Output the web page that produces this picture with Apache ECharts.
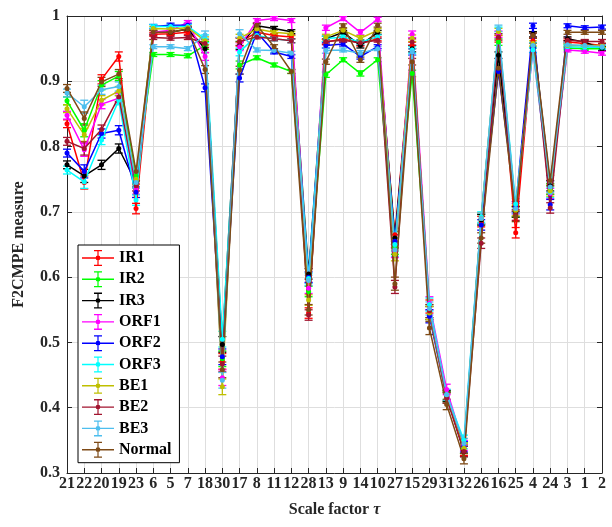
<!DOCTYPE html>
<html><head><meta charset="utf-8">
<script src="https://cdn.jsdelivr.net/npm/echarts@6/dist/echarts.min.js"></script>
<style>html,body{margin:0;padding:0;background:#fff}#c{width:612px;height:527px}</style>
</head><body><div id="c"></div>
<script>
const scaleFactors = ['21','22','20','19','23','6','5','7','18','30','17','8','11','12','28','13','9','14','10','27','15','29','31','32','26','16','25','4','24','3','1','2'];
const yTicks = [0.3,0.4,0.5,0.6,0.7,0.8,0.9,1];
const seriesNames = ['IR1','IR2','IR3','ORF1','ORF2','ORF3','BE1','BE2','BE3','Normal'];
const IR1 = [0.835,0.745,0.903,0.938,0.705,0.972,0.973,0.975,0.955,0.471,0.960,0.975,0.970,0.968,0.545,0.960,0.965,0.958,0.965,0.665,0.955,0.555,0.418,0.335,0.685,0.965,0.668,0.962,0.735,0.960,0.958,0.955];
const IR2 = [0.870,0.825,0.894,0.908,0.755,0.941,0.941,0.939,0.955,0.475,0.925,0.936,0.925,0.915,0.578,0.910,0.933,0.912,0.933,0.645,0.912,0.548,0.417,0.338,0.688,0.960,0.700,0.955,0.735,0.951,0.950,0.950];
const IR3 = [0.772,0.755,0.772,0.797,0.745,0.975,0.975,0.980,0.950,0.497,0.955,0.985,0.981,0.976,0.605,0.965,0.975,0.955,0.975,0.660,0.950,0.545,0.418,0.333,0.688,0.940,0.700,0.972,0.740,0.965,0.960,0.950];
const ORF1 = [0.848,0.795,0.865,0.874,0.735,0.975,0.978,0.990,0.938,0.446,0.953,0.993,0.996,0.993,0.583,0.982,0.996,0.975,0.995,0.640,0.972,0.560,0.428,0.342,0.690,0.972,0.705,0.948,0.728,0.948,0.946,0.943];
const ORF2 = [0.790,0.762,0.820,0.825,0.730,0.984,0.986,0.986,0.890,0.478,0.905,0.975,0.945,0.938,0.600,0.955,0.957,0.938,0.953,0.655,0.945,0.540,0.415,0.340,0.680,0.915,0.708,0.985,0.711,0.985,0.982,0.983];
const ORF3 = [0.764,0.746,0.810,0.871,0.718,0.984,0.984,0.984,0.965,0.505,0.945,0.970,0.965,0.962,0.598,0.965,0.968,0.960,0.968,0.650,0.948,0.558,0.420,0.350,0.692,0.978,0.712,0.948,0.730,0.953,0.952,0.952];
const BE1 = [0.858,0.818,0.871,0.885,0.750,0.981,0.980,0.982,0.962,0.432,0.966,0.980,0.975,0.973,0.565,0.968,0.978,0.966,0.978,0.635,0.966,0.545,0.415,0.338,0.690,0.976,0.702,0.958,0.732,0.955,0.955,0.955];
const BE2 = [0.808,0.797,0.826,0.876,0.740,0.967,0.966,0.967,0.958,0.467,0.961,0.968,0.965,0.962,0.542,0.961,0.963,0.959,0.963,0.585,0.960,0.548,0.415,0.333,0.652,0.968,0.695,0.970,0.706,0.963,0.961,0.961];
const BE3 = [0.882,0.861,0.887,0.892,0.745,0.953,0.953,0.950,0.971,0.442,0.973,0.948,0.947,0.943,0.595,0.947,0.948,0.943,0.950,0.642,0.945,0.552,0.420,0.345,0.690,0.981,0.705,0.955,0.738,0.956,0.955,0.953];
const Normal = [0.889,0.843,0.899,0.911,0.762,0.975,0.975,0.980,0.918,0.458,0.917,0.986,0.953,0.915,0.550,0.930,0.985,0.933,0.986,0.590,0.930,0.522,0.405,0.322,0.660,0.920,0.693,0.970,0.748,0.975,0.975,0.975];
const errorByScale = [0.006,0.010,0.007,0.007,0.008,0.003,0.003,0.003,0.006,0.012,0.006,0.003,0.003,0.003,0.008,0.004,0.003,0.004,0.003,0.010,0.005,0.010,0.008,0.008,0.008,0.005,0.008,0.004,0.008,0.003,0.003,0.003];

const seriesValues = [IR1,IR2,IR3,ORF1,ORF2,ORF3,BE1,BE2,BE3,Normal];
const colors = ['#ff0000','#00ff00','#000000','#ff00ff','#0000ff','#00ffff','#bfbf00','#a2142f','#4dbeee','#7e4a16'];
const FONT = '"Liberation Serif","DejaVu Serif",serif';
const ICON = 'path://M0,7.3L32,7.3L32,8.7L0,8.7Z M15.4,0.6L16.6,0.6L16.6,15.4L15.4,15.4Z M12,0L20,0L20,1.3L12,1.3Z M12,14.7L20,14.7L20,16L12,16Z M13.6,8A2.4,2.4,0,1,1,18.4,8A2.4,2.4,0,1,1,13.6,8Z';

const series = [];
seriesNames.forEach((name, i) => {
  const col = colors[i];
  series.push({
    name: name, type: 'line', data: seriesValues[i],
    symbol: 'circle', symbolSize: 5, showSymbol: true,
    itemStyle: {color: col}, lineStyle: {color: col, width: 1.5},
    emphasis: {disabled: true}, animation: false, z: 3
  });
  series.push({
    name: name + ' err', type: 'custom',
    data: seriesValues[i].map((v, k) => [k, v, errorByScale[k]]),
    encode: {x: 0, y: 1},
    renderItem: function (params, api) {
      const x = api.value(0), v = api.value(1), e = api.value(2);
      const t = api.coord([x, v + e]);
      const b = api.coord([x, v - e]);
      const hw = 4;
      const st = {stroke: col, lineWidth: 1.3};
      return {type: 'group', children: [
        {type: 'line', shape: {x1: t[0], y1: t[1], x2: b[0], y2: b[1]}, style: st},
        {type: 'line', shape: {x1: t[0]-hw, y1: t[1], x2: t[0]+hw, y2: t[1]}, style: st},
        {type: 'line', shape: {x1: b[0]-hw, y1: b[1], x2: b[0]+hw, y2: b[1]}, style: st}
      ]};
    },
    silent: true, animation: false, z: 3
  });
});

const chart = echarts.init(document.getElementById('c'));
chart.setOption({
  backgroundColor: '#fff',
  animation: false,
  grid: {left: 67, right: 10, top: 16, bottom: 54},
  legend: {
    data: seriesNames.map(n => ({name: n, icon: ICON})),
    orient: 'vertical', left: 78, top: 245,
    itemWidth: 32, itemHeight: 16, itemGap: 5.3,
    padding: [5, 8, 5, 4],
    borderColor: '#000', borderWidth: 1, backgroundColor: '#fff',
    textStyle: {fontFamily: FONT, fontWeight: 'bold', fontSize: 16, color: '#000'},
    selectedMode: false
  },
  xAxis: [{
    type: 'category', data: scaleFactors, boundaryGap: false,
    name: 'Scale factor {t|τ}', nameLocation: 'middle', nameGap: 29,
    nameTextStyle: {fontFamily: FONT, fontWeight: 'bold', fontSize: 16, color: '#262626',
      rich: {t: {fontFamily: FONT, fontWeight: 'bold', fontStyle: 'italic', fontSize: 16, color: '#262626'}}},
    axisLine: {lineStyle: {color: '#262626', width: 1}},
    axisTick: {inside: true, length: 5, alignWithLabel: true, lineStyle: {color: '#262626'}},
    axisLabel: {interval: 0, margin: 3, fontFamily: FONT, fontWeight: 'bold', fontSize: 16, color: '#262626', hideOverlap: false},
    splitLine: {show: true, lineStyle: {color: '#dedede', width: 1}}
  }, {
    type: 'category', data: scaleFactors, boundaryGap: false, position: 'top',
    axisLine: {lineStyle: {color: '#262626', width: 1}},
    axisTick: {inside: true, length: 5, lineStyle: {color: '#262626'}},
    axisLabel: {show: false}, splitLine: {show: false}
  }],
  yAxis: [{
    type: 'value', min: yTicks[0], max: yTicks[yTicks.length-1], interval: 0.1,
    name: 'F2CMPE measure', nameLocation: 'middle', nameGap: 40,
    nameTextStyle: {fontFamily: FONT, fontWeight: 'bold', fontSize: 16, color: '#262626'},
    axisLine: {show: true, lineStyle: {color: '#262626', width: 1}},
    axisTick: {show: true, inside: true, length: 5, lineStyle: {color: '#262626'}},
    axisLabel: {margin: 7, fontFamily: FONT, fontWeight: 'bold', fontSize: 16, color: '#262626',
      formatter: v => (Math.abs(v-1) < 1e-9 ? '1' : v.toFixed(1))},
    splitLine: {show: true, lineStyle: {color: '#dedede', width: 1}}
  }, {
    type: 'value', min: yTicks[0], max: yTicks[yTicks.length-1], interval: 0.1, position: 'right',
    axisLine: {show: true, lineStyle: {color: '#262626', width: 1}},
    axisTick: {show: true, inside: true, length: 5, lineStyle: {color: '#262626'}},
    axisLabel: {show: false}, splitLine: {show: false}
  }],
  series: series
});
</script></body></html>
